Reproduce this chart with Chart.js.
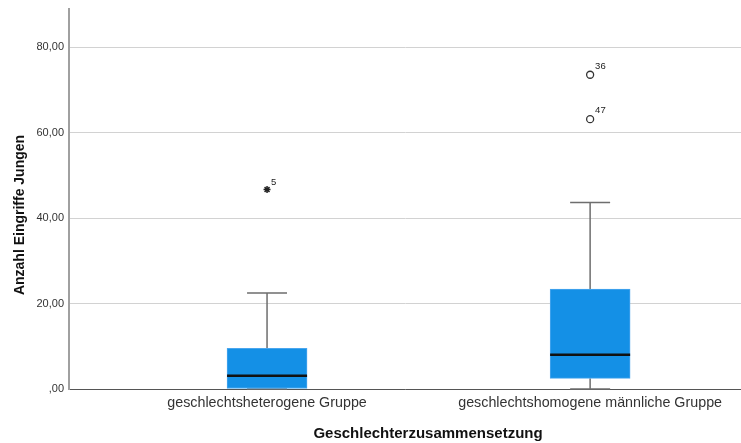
<!DOCTYPE html>
<html>
<head>
<meta charset="utf-8">
<script src="https://cdn.jsdelivr.net/npm/chart.js@4/dist/chart.umd.min.js"></script>
<style>
  html, body { margin: 0; padding: 0; background: #ffffff; }
  #wrap { width: 741px; height: 443px; }
</style>
</head>
<body>
<div id="wrap"><canvas id="c" width="741" height="443"></canvas></div>
<script>
// Groups on the x axis
const categories = ['geschlechtsheterogene Gruppe', 'geschlechtshomogene männliche Gruppe'];

// Five-number summaries per group
const whiskerLow  = [0, 0];
const quartile1   = [0, 2.5];
const median      = [3.1, 8.0];
const quartile3   = [9.5, 23.4];
const whiskerHigh = [22.5, 43.7];

// Outliers (circles) and extreme values (stars) with case numbers
const outlierGroup = [1, 1];
const outlierValue = [73.6, 63.2];
const outlierCase  = ['36', '47'];
const extremeGroup = [0];
const extremeValue = [46.7];
const extremeCase  = ['5'];

// Y-axis tick values
const yTicks = [0, 20, 40, 60, 80];

// Axis titles
const xTitle = 'Geschlechterzusammensetzung';
const yTitle = 'Anzahl Eingriffe Jungen';

const fmt = v => v === 0 ? ',00' : v.toFixed(2).replace('.', ',');
const FONT = "'Liberation Sans', Arial, sans-serif";

const boxPlugin = {
  id: 'boxWhiskers',
  beforeDatasetsDraw(chart) {
    const { ctx, scales: { x, y } } = chart;
    ctx.save();
    ctx.strokeStyle = '#6e6e6e';
    ctx.lineWidth = 1.5;
    categories.forEach((c, i) => {
      const px = x.getPixelForValue(i + 1);
      const capHalf = 20;
      ctx.beginPath();
      ctx.moveTo(px, y.getPixelForValue(quartile3[i]));
      ctx.lineTo(px, y.getPixelForValue(whiskerHigh[i]));
      ctx.moveTo(px - capHalf, y.getPixelForValue(whiskerHigh[i]));
      ctx.lineTo(px + capHalf, y.getPixelForValue(whiskerHigh[i]));
      if (quartile1[i] > whiskerLow[i]) {
        ctx.moveTo(px, y.getPixelForValue(quartile1[i]));
        ctx.lineTo(px, y.getPixelForValue(whiskerLow[i]));
      }
      ctx.moveTo(px - capHalf, y.getPixelForValue(whiskerLow[i]));
      ctx.lineTo(px + capHalf, y.getPixelForValue(whiskerLow[i]));
      ctx.stroke();
    });
    ctx.restore();
  },
  afterDatasetsDraw(chart) {
    const { ctx, scales: { x, y } } = chart;
    const meta = chart.getDatasetMeta(0);
    ctx.save();
    ctx.strokeStyle = '#111111';
    ctx.lineWidth = 2.5;
    meta.data.forEach((bar, i) => {
      const py = y.getPixelForValue(median[i]);
      ctx.beginPath();
      ctx.moveTo(bar.x - bar.width / 2, py);
      ctx.lineTo(bar.x + bar.width / 2, py);
      ctx.stroke();
    });
    ctx.fillStyle = '#222222';
    ctx.font = '9.5px ' + FONT;
    ctx.textAlign = 'left';
    ctx.textBaseline = 'alphabetic';
    outlierCase.forEach((t, i) => {
      ctx.fillText(t, x.getPixelForValue(outlierGroup[i] + 1) + 5, y.getPixelForValue(outlierValue[i]) - 6);
    });
    extremeCase.forEach((t, i) => {
      ctx.fillText(t, x.getPixelForValue(extremeGroup[i] + 1) + 4, y.getPixelForValue(extremeValue[i]) - 5);
    });
    ctx.restore();
  },
  afterDraw(chart) {
    // Axis titles, placed the way the original output lays them out
    const { ctx } = chart;
    ctx.save();
    ctx.fillStyle = '#111111';
    ctx.textAlign = 'center';
    ctx.textBaseline = 'alphabetic';
    ctx.font = 'bold 15px ' + FONT;
    ctx.fillText(xTitle, 428, 438);
    ctx.translate(23.5, 215);
    ctx.rotate(-Math.PI / 2);
    ctx.font = 'bold 14px ' + FONT;
    ctx.fillText(yTitle, 0, 0);
    ctx.restore();
  }
};

new Chart(document.getElementById('c'), {
  type: 'bar',
  data: {
    datasets: [
      {
        type: 'bar',
        data: categories.map((c, i) => ({ x: i + 1, y: [quartile1[i], quartile3[i]] })),
        backgroundColor: '#1490e6',
        borderColor: '#4aa6ee',
        borderWidth: 1,
        borderSkipped: false,
        barThickness: 80,
        order: 2
      },
      {
        type: 'scatter',
        data: outlierValue.map((v, i) => ({ x: outlierGroup[i] + 1, y: v })),
        pointStyle: 'circle',
        pointRadius: 3.5,
        pointBorderWidth: 1.3,
        borderColor: '#333333',
        backgroundColor: '#ffffff',
        order: 1
      },
      {
        type: 'scatter',
        data: extremeValue.map((v, i) => ({ x: extremeGroup[i] + 1, y: v })),
        pointStyle: 'star',
        pointRadius: 3.5,
        pointBorderWidth: 1.5,
        borderColor: '#222222',
        backgroundColor: '#222222',
        order: 1
      }
    ]
  },
  options: {
    responsive: false,
    devicePixelRatio: 1,
    animation: false,
    events: [],
    layout: { autoPadding: false, padding: { top: 9, right: 0, left: 0, bottom: 0 } },
    plugins: { legend: { display: false }, tooltip: { enabled: false } },
    scales: {
      x: {
        type: 'linear',
        offset: false,
        min: 0.387,
        max: 2.467,
        afterFit: s => { s.height = 54; s.paddingLeft = 0; s.paddingRight = 0; },
        afterBuildTicks: s => { s.ticks = categories.map((c, i) => ({ value: i + 1 })); },
        grid: { display: false, drawTicks: false, offset: false },
        border: { display: true, color: '#555555', width: 1 },
        ticks: {
          autoSkip: false,
          maxRotation: 0,
          padding: 5,
          color: '#333333',
          font: { family: FONT, size: 14.3 },
          callback: v => categories[v - 1]
        },
        title: { display: false }
      },
      y: {
        min: 0,
        max: 89,
        afterFit: s => { s.width = 69; s.paddingTop = 0; s.paddingBottom = 0; },
        afterBuildTicks: s => { s.ticks = yTicks.map(v => ({ value: v })); },
        grid: { color: '#d2d2d2', lineWidth: 1, drawTicks: false },
        border: { display: true, color: '#a0a0a0', width: 2 },
        ticks: {
          padding: 5,
          color: '#333333',
          font: { family: FONT, size: 11 },
          callback: v => fmt(v)
        },
        title: { display: false }
      }
    }
  },
  plugins: [boxPlugin]
});
</script>
</body>
</html>
